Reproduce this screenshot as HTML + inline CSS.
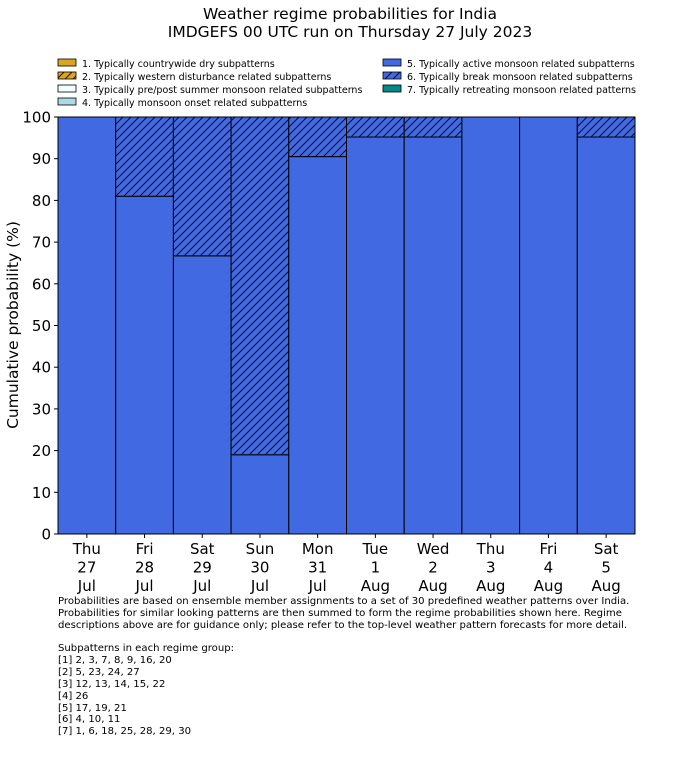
<!DOCTYPE html>
<html><head><meta charset="utf-8"><style>
body{margin:0;background:#fff;font-family:"Liberation Sans","DejaVu Sans",sans-serif;}
svg text{font-family:"DejaVu Sans","Liberation Sans",sans-serif;}
</style></head><body>
<svg id="c" width="700" height="754" xmlns="http://www.w3.org/2000/svg">
<defs>
<pattern id="hatch" patternUnits="userSpaceOnUse" width="8" height="8">
<rect width="8" height="8" fill="#4169e1"/>
<path d="M-2,2 L2,-2 M0,8 L8,0 M6,10 L10,6" stroke="#000" stroke-width="0.9"/>
</pattern>
</defs>
<text x="350" y="19" text-anchor="middle" font-size="15.5">Weather regime probabilities for India</text>
<text x="350" y="37" text-anchor="middle" font-size="15.5">IMDGEFS 00 UTC run on Thursday 27 July 2023</text>
<g id="legend" font-size="9.5"></g>
<g id="plot"></g>
<text transform="translate(18,325) rotate(-90)" text-anchor="middle" font-size="15.5">Cumulative probability (%)</text>
<g font-size="10.1">
<text x="58" y="604">Probabilities are based on ensemble member assignments to a set of 30 predefined weather patterns over India.</text>
<text x="58" y="616">Probabilities for similar looking patterns are then summed to form the regime probabilities shown here. Regime</text>
<text x="58" y="628">descriptions above are for guidance only; please refer to the top-level weather pattern forecasts for more detail.</text>
<text x="58" y="651">Subpatterns in each regime group:</text>
<text x="58" y="663">[1] 2, 3, 7, 8, 9, 16, 20</text>
<text x="58" y="675">[2] 5, 23, 24, 27</text>
<text x="58" y="687">[3] 12, 13, 14, 15, 22</text>
<text x="58" y="699">[4] 26</text>
<text x="58" y="711">[5] 17, 19, 21</text>
<text x="58" y="722">[6] 4, 10, 11</text>
<text x="58" y="734">[7] 1, 6, 18, 25, 28, 29, 30</text>
</g>
</svg>
<script>
const days=["Thu","Fri","Sat","Sun","Mon","Tue","Wed","Thu","Fri","Sat"];
const dates=["27","28","29","30","31","1","2","3","4","5"];
const months=["Jul","Jul","Jul","Jul","Jul","Aug","Aug","Aug","Aug","Aug"];
const active=[100,81,66.7,19,90.5,95.2,95.2,100,100,95.2];
const brk=[0,19,33.3,81,9.5,4.8,4.8,0,0,4.8];
const yTicks=[0,10,20,30,40,50,60,70,80,90,100];
const legendLabels=["1. Typically countrywide dry subpatterns","2. Typically western disturbance related subpatterns","3. Typically pre/post summer monsoon related subpatterns","4. Typically monsoon onset related subpatterns","5. Typically active monsoon related subpatterns","6. Typically break monsoon related subpatterns","7. Typically retreating monsoon related patterns"];
const legendFills=["#daa520","url(#hatchO)","#f0ffff","#add8e6","#4169e1","url(#hatch)","#008b8b"];

const NS="http://www.w3.org/2000/svg";
const X0=58,X1=635,Y0=534,Y1=117;
const bw=(X1-X0)/days.length;
const y=v=>Y0+(Y1-Y0)*v/100;
const x=i=>X0+i*bw;
function mk(tag,a,p){const e=document.createElementNS(NS,tag);for(const k in a)e.setAttribute(k,a[k]);p.appendChild(e);return e;}
const svg=document.getElementById('c');
const defs=svg.querySelector('defs');
const po=mk('pattern',{id:'hatchO',patternUnits:'userSpaceOnUse',width:8,height:8},defs);
mk('rect',{width:8,height:8,fill:'#daa520'},po);
mk('path',{d:'M-2,2 L2,-2 M0,8 L8,0 M6,10 L10,6',stroke:'#000','stroke-width':0.9},po);
const plot=document.getElementById('plot');


for(let i=0;i<days.length;i++){
  const a=active[i],b=brk[i];
  const r=mk('rect',{x:x(i),y:y(a),width:bw,height:y(0)-y(a),fill:'#4169e1',stroke:'#000','stroke-width':1},plot);
  
  
  if(b>0){
    const h=mk('rect',{x:x(i),y:y(a+b),width:bw,height:y(a)-y(a+b),fill:'url(#hatch)',stroke:'#000','stroke-width':1},plot);
    
    
  }
  const lab=mk('text',{x:x(i)+bw/2,y:554,'text-anchor':'middle','font-size':15},plot);
  
  
  [days[i],dates[i],months[i]].forEach((t,k)=>{const ts=mk('tspan',{x:x(i)+bw/2,dy:k?18.5:0},lab);ts.textContent=t;});
  mk('line',{x1:x(i)+bw/2,x2:x(i)+bw/2,y1:Y0,y2:Y0+4,stroke:'#000'},plot);
}
mk('rect',{x:X0,y:Y1,width:X1-X0,height:Y0-Y1,fill:'none',stroke:'#000','stroke-width':1},plot);
yTicks.forEach(v=>{
  mk('line',{x1:X0-4,x2:X0,y1:y(v),y2:y(v),stroke:'#000'},plot);
  const t=mk('text',{x:X0-7,y:y(v)+5.5,'text-anchor':'end','font-size':15},plot);
  
  
  t.textContent=v;
});
const lg=document.getElementById('legend');
legendLabels.forEach((l,i)=>{
  const col=i<4?0:1,row=i<4?i:i-4;
  const lx=col?383:58,ly=59+row*13;
  const g=mk('g',{},lg);
  
  
  mk('rect',{x:lx,y:ly,width:18,height:7,fill:legendFills[i],stroke:'#000','stroke-width':0.8},g);
  const t=mk('text',{x:lx+24,y:ly+8},g);t.textContent=l;
});
</script>
</body></html>
